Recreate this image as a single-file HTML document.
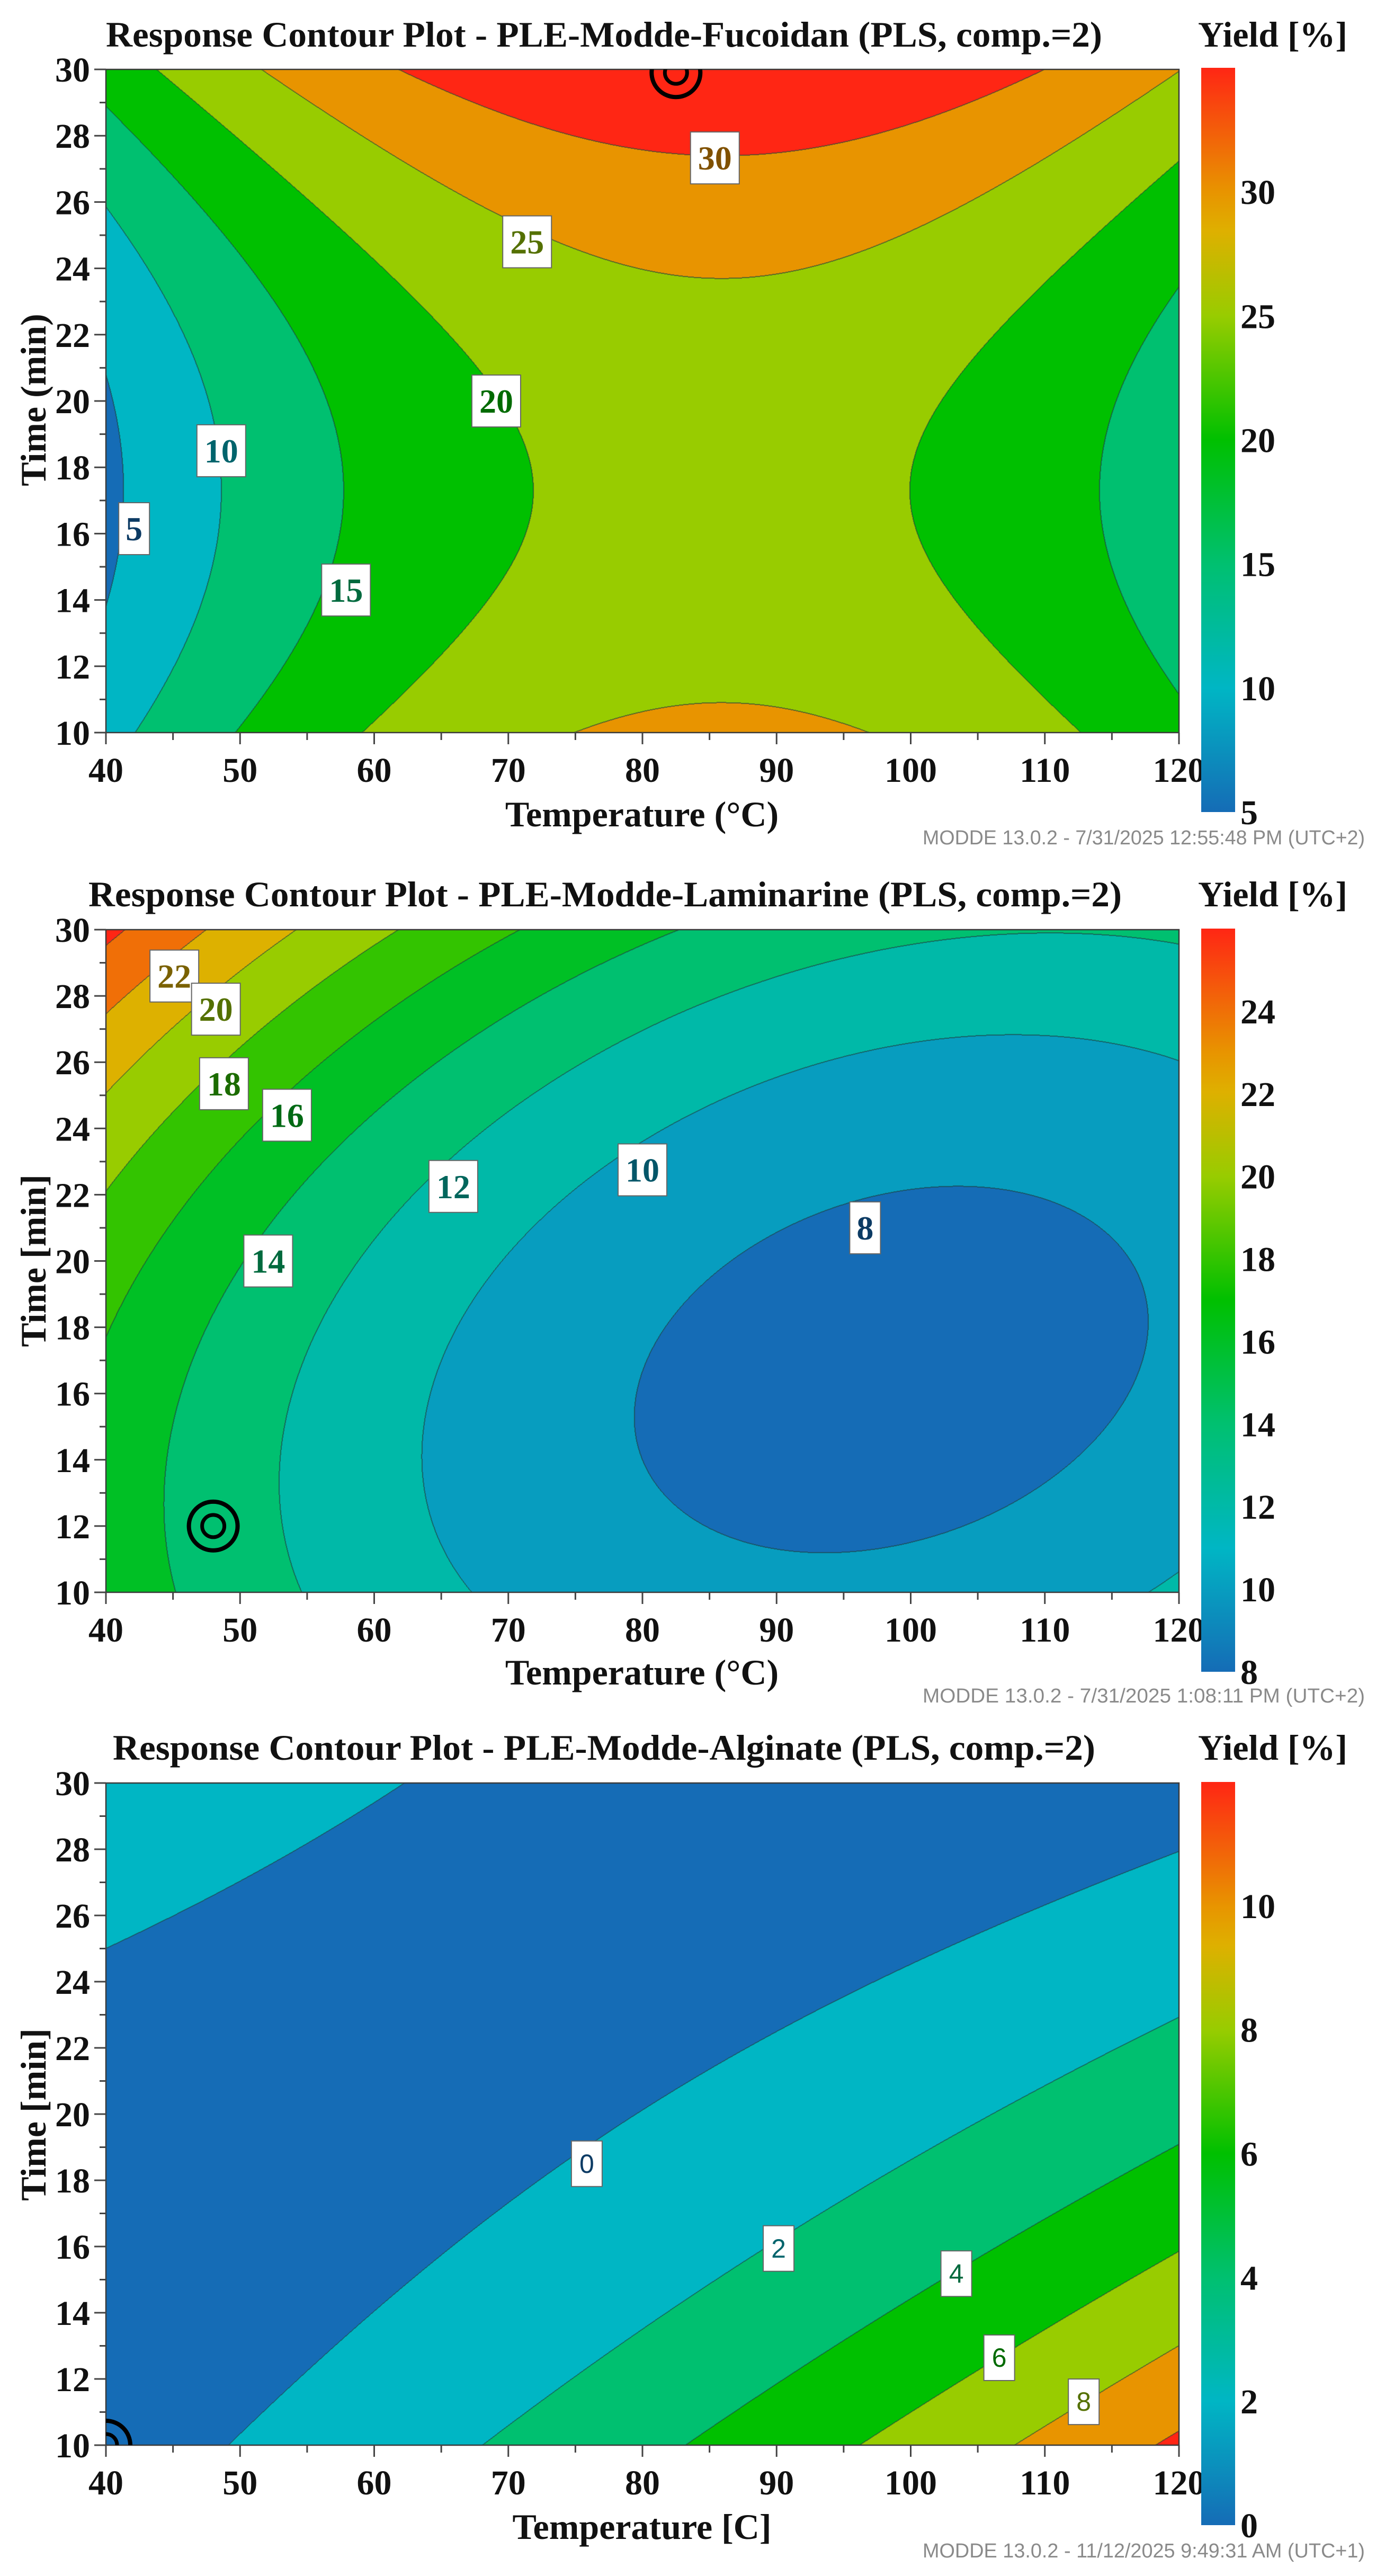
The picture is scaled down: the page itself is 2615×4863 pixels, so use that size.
<!DOCTYPE html>
<html>
<head>
<meta charset="utf-8">
<style>
  html,body{margin:0;padding:0;background:#fff;}
  #root{position:relative;width:2615px;height:4863px;overflow:hidden;background:#fff;}
  canvas{position:absolute;}
  svg{position:absolute;left:0;top:0;}
</style>
</head>
<body>
<div id="root"></div>
<script>
// ---------------- DATA ----------------
// quadratic model coefficients [b0, bT, bt, bTT, btt, bTt] in coded units
const coefFucoidan = [21.955, 3.953, 4.423, -13.4, 8.19, 0];
const coefLaminarine = [8.6, -4.3, 2.8, 4.0, 3.0, -1.8];
const coefAlginate = [0.026, 2.216, -2.146, 1.247, 1.375, -3.342];
// contour levels
const levelsFucoidan = [5, 10, 15, 20, 25, 30];
const levelsLaminarine = [8, 10, 12, 14, 16, 18, 20, 22, 24];
const levelsAlginate = [0, 2, 4, 6, 8, 10];
// contour label values and their (temperature, time) positions
const labelValsFucoidan = [30, 25, 20, 10, 5, 15];
const labelTempFucoidan = [85.4, 71.4, 69.1, 48.6, 42.1, 57.9];
const labelTimeFucoidan = [27.33, 24.8, 20.0, 18.5, 16.15, 14.3];
const labelValsLaminarine = [22, 20, 18, 16, 12, 10, 8, 14];
const labelTempLaminarine = [45.1, 48.2, 48.8, 53.5, 65.9, 80.0, 96.6, 52.1];
const labelTimeLaminarine = [28.6, 27.6, 25.35, 24.4, 22.25, 22.75, 21.0, 20.0];
const labelValsAlginate = [0, 2, 4, 6, 8];
const labelTempAlginate = [75.85, 90.15, 103.4, 106.6, 112.9];
const labelTimeAlginate = [18.5, 15.94, 15.18, 12.64, 11.31];
// design-point markers (temperature, time)
const markerFucoidan = [82.5, 29.9];
const markerLaminarine = [48, 12];
const markerAlginate = [40, 10];
// colorbar ranges and ticks
const cbRangeFucoidan = [5, 35];
const cbTicksFucoidan = [5, 10, 15, 20, 25, 30];
const cbRangeLaminarine = [8, 26];
const cbTicksLaminarine = [8, 10, 12, 14, 16, 18, 20, 22, 24];
const cbRangeAlginate = [0, 12];
const cbTicksAlginate = [0, 2, 4, 6, 8, 10];
// axis ticks
const tempTicks = [40, 50, 60, 70, 80, 90, 100, 110, 120];
const timeTicks = [10, 12, 14, 16, 18, 20, 22, 24, 26, 28, 30];
const tempDomain = [40, 120];
const timeDomain = [10, 30];

// ---------------- LAYOUT ----------------
const PX0 = 200, PX1 = 2226, CBX = 2268, CBW = 64;
const panels = [
  {key:'fucoidan', coef:coefFucoidan, levels:levelsFucoidan, lv:labelValsFucoidan, lT:labelTempFucoidan, lt:labelTimeFucoidan,
   marker:markerFucoidan, range:cbRangeFucoidan, cbTicks:cbTicksFucoidan, top:131, bottom:1383, cbTop:128, cbBot:1533,
   title:'Response Contour Plot - PLE-Modde-Fucoidan (PLS, comp.=2)', titleX:200, titleW:1881, titleY:88,
   yTitle:'Time (min)', yTitleC:755, xTitle:'Temperature (°C)', xTitleY:1560, footer:'MODDE 13.0.2 - 7/31/2025 12:55:48 PM (UTC+2)', footerY:1594, serifLabels:true},
  {key:'laminarine', coef:coefLaminarine, levels:levelsLaminarine, lv:labelValsLaminarine, lT:labelTempLaminarine, lt:labelTimeLaminarine,
   marker:markerLaminarine, range:cbRangeLaminarine, cbTicks:cbTicksLaminarine, top:1755, bottom:3006, cbTop:1753, cbBot:3156,
   title:'Response Contour Plot - PLE-Modde-Laminarine (PLS, comp.=2)', titleX:167, titleW:1951, titleY:1711,
   yTitle:'Time [min]', yTitleC:2380, xTitle:'Temperature (°C)', xTitleY:3180, footer:'MODDE 13.0.2 - 7/31/2025 1:08:11 PM (UTC+2)', footerY:3214, serifLabels:true},
  {key:'alginate', coef:coefAlginate, levels:levelsAlginate, lv:labelValsAlginate, lT:labelTempAlginate, lt:labelTimeAlginate,
   marker:markerAlginate, range:cbRangeAlginate, cbTicks:cbTicksAlginate, top:3366, bottom:4616, cbTop:3364, cbBot:4767,
   title:'Response Contour Plot - PLE-Modde-Alginate (PLS, comp.=2)', titleX:213, titleW:1855, titleY:3322,
   yTitle:'Time [min]', yTitleC:3992, xTitle:'Temperature [C]', xTitleY:4793, footer:'MODDE 13.0.2 - 11/12/2025 9:49:31 AM (UTC+1)', footerY:4828, serifLabels:false}
];

const stops = [[0,[21,108,182]],[1/6,[0,182,196]],[2/6,[0,192,112]],[0.5,[0,192,0]],[4/6,[152,204,0]],[0.78,[222,176,0]],[5/6,[232,148,0]],[1,[255,38,20]]];
function cmap(u){
  u = Math.max(0, Math.min(1, u));
  for (let i = 1; i < stops.length; i++) {
    if (u <= stops[i][0]) {
      const a = stops[i-1], b = stops[i], f = (u - a[0]) / (b[0] - a[0]);
      return [0,1,2].map(k => Math.round(a[1][k] + (b[1][k] - a[1][k]) * f));
    }
  }
  return stops[stops.length-1][1];
}
function model(c, T, t){
  const x1 = (T - 80) / 40, x2 = (t - 20) / 10;
  return c[0] + c[1]*x1 + c[2]*x2 + c[3]*x1*x1 + c[4]*x2*x2 + c[5]*x1*x2;
}
const NS = 'http://www.w3.org/2000/svg';
const root = document.getElementById('root');
const svg = document.createElementNS(NS, 'svg');
svg.setAttribute('width', 2615); svg.setAttribute('height', 4863);


function mk(tag, parent, attrs){
  const e = document.createElementNS(NS, tag);
  for (const k in attrs) e.setAttribute(k, attrs[k]);
  parent.appendChild(e);
  return e;
}
const defs = mk('defs', svg, {});
const grad = mk('linearGradient', defs, {id:'cbgrad', x1:0, y1:1, x2:0, y2:0});
stops.forEach(s => mk('stop', grad, {offset:s[0], 'stop-color':'rgb(' + s[1].join(',') + ')'}));

panels.forEach((p, pi) => {
  const W = PX1 - PX0, H = p.bottom - p.top;
  const xS = T => PX0 + (T - tempDomain[0]) / (tempDomain[1] - tempDomain[0]) * W;
  const yS = t => p.bottom - (t - timeDomain[0]) / (timeDomain[1] - timeDomain[0]) * H;
  const vmin = p.range[0], vmax = p.range[1];
  const cbY = v => p.cbBot - (v - vmin) / (vmax - vmin) * (p.cbBot - p.cbTop);

  // ---- filled contours on canvas
  const cv = document.createElement('canvas');
  cv.width = W; cv.height = H;
  cv.style.left = PX0 + 'px'; cv.style.top = p.top + 'px';
  
  
  root.appendChild(cv);
  const ctx = cv.getContext('2d');
  const img = ctx.createImageData(W, H);
  const band = new Uint8Array(W * H);
  const bandCol = [];
  for (let i = 0; i <= p.levels.length; i++) {
    const up = i < p.levels.length ? p.levels[i] : vmax;
    bandCol.push(cmap((up - vmin) / (vmax - vmin)));
  }
  for (let py = 0; py < H; py++) {
    const t = timeDomain[1] - (py + 0.5) / H * (timeDomain[1] - timeDomain[0]);
    for (let px = 0; px < W; px++) {
      const T = tempDomain[0] + (px + 0.5) / W * (tempDomain[1] - tempDomain[0]);
      const v = model(p.coef, T, t);
      let b = 0; while (b < p.levels.length && v >= p.levels[b]) b++;
      band[py * W + px] = b;
    }
  }
  const d = img.data;
  for (let py = 0; py < H; py++) {
    for (let px = 0; px < W; px++) {
      const i = py * W + px, b = band[i];
      let edge = false;
      if (px + 1 < W && band[i+1] !== b) edge = true;
      else if (px > 0 && band[i-1] !== b) edge = true;
      else if (py + 1 < H && band[i+W] !== b) edge = true;
      else if (py > 0 && band[i-W] !== b) edge = true;
      const c = bandCol[b];
      const o = i * 4;
      if (edge) { d[o] = c[0]*0.35 + 20; d[o+1] = c[1]*0.35 + 40; d[o+2] = c[2]*0.35 + 40; }
      else { d[o] = c[0]; d[o+1] = c[1]; d[o+2] = c[2]; }
      d[o+3] = 255;
    }
  }
  ctx.putImageData(img, 0, 0);

  const g = mk('g', svg, {});
  
  
  const clip = mk('clipPath', defs, {id:'clip' + pi});
  mk('rect', clip, {x:PX0, y:p.top, width:W, height:H});

  // frame
  const frame = mk('rect', g, {x:PX0, y:p.top, width:W, height:H, fill:'none', stroke:'#3a3a3a', 'stroke-width':2.5});
  
  

  // title
  const title = mk('text', g, {x:p.titleX, y:p.titleY, textLength:p.titleW, lengthAdjust:'spacingAndGlyphs',
    'font-family':'Liberation Serif, serif', 'font-weight':'bold', 'font-size':68, fill:'#111'});
  title.textContent = p.title;
  
  
  const yl = mk('text', g, {x:2262, y:p.titleY, textLength:282, lengthAdjust:'spacingAndGlyphs',
    'font-family':'Liberation Serif, serif', 'font-weight':'bold', 'font-size':68, fill:'#111'});
  yl.textContent = 'Yield [%]';
  
  

  // x ticks
  for (let T = 40; T <= 120; T += 5) {
    const major = T % 10 === 0;
    const tk = mk('line', g, {x1:xS(T), x2:xS(T), y1:p.bottom, y2:p.bottom + (major ? 22 : 14), stroke:'#444', 'stroke-width':3});
    
    
  }
  tempTicks.forEach(T => {
    const tx = mk('text', g, {x:xS(T), y:p.bottom + 93, 'text-anchor':'middle', 'font-family':'Liberation Serif, serif', 'font-weight':'bold', 'font-size':66, fill:'#111'});
    tx.textContent = T;
    
    
  });
  // y ticks
  for (let t = 10; t <= 30; t += 1) {
    const major = t % 2 === 0;
    const tk = mk('line', g, {x1:PX0, x2:PX0 - (major ? 22 : 12), y1:yS(t), y2:yS(t), stroke:'#444', 'stroke-width':3});
    
    
  }
  timeTicks.forEach(t => {
    const tx = mk('text', g, {x:170, y:yS(t) + 23, 'text-anchor':'end', 'font-family':'Liberation Serif, serif', 'font-weight':'bold', 'font-size':66, fill:'#111'});
    tx.textContent = t;
    
    
  });
  // axis titles
  const xt = mk('text', g, {x:1212, y:p.xTitleY, 'text-anchor':'middle', 'font-family':'Liberation Serif, serif', 'font-weight':'bold', 'font-size':68, fill:'#111'});
  xt.textContent = p.xTitle;
  
  
  const ytt = mk('text', g, {x:0, y:0, 'text-anchor':'middle', 'font-family':'Liberation Serif, serif', 'font-weight':'bold', 'font-size':68, fill:'#111',
    transform:'translate(86,' + p.yTitleC + ') rotate(-90)'});
  ytt.textContent = p.yTitle;
  
  

  // contour labels
  p.lv.forEach((v, i) => {
    const cx = xS(p.lT[i]), cy = yS(p.lt[i]);
    const one = String(v).length === 1;
    const bw = one ? 58 : 92, bh = p.serifLabels ? 98 : 86;
    const lg = mk('g', g, {});
    
    
    mk('rect', lg, {x:cx - bw/2, y:cy - bh/2, width:bw, height:bh, fill:'#fff', stroke:'#666', 'stroke-width':2});
    const c = cmap((v - vmin) / (vmax - vmin)).map(k => Math.round(k * 0.55));
    const lt = mk('text', lg, {x:cx, y:cy + (p.serifLabels ? 22 : 17), 'text-anchor':'middle',
      'font-family':p.serifLabels ? 'Liberation Serif, serif' : 'Liberation Sans, sans-serif',
      'font-weight':p.serifLabels ? 'bold' : 'normal', 'font-size':p.serifLabels ? 64 : 50, fill:'rgb(' + c.join(',') + ')'});
    lt.textContent = v;
  });

  // marker
  const mg = mk('g', g, {'clip-path':'url(#clip' + pi + ')'});
  
  
  mk('circle', mg, {cx:xS(p.marker[0]), cy:yS(p.marker[1]), r:46, fill:'none', stroke:'#000', 'stroke-width':8});
  mk('circle', mg, {cx:xS(p.marker[0]), cy:yS(p.marker[1]), r:21, fill:'none', stroke:'#000', 'stroke-width':7});

  // colorbar
  const cb = mk('rect', g, {x:CBX, y:p.cbTop, width:CBW, height:p.cbBot - p.cbTop, fill:'url(#cbgrad)'});
  
  
  p.cbTicks.forEach(v => {
    const ct = mk('text', g, {x:2342, y:cbY(v) + 23, 'font-family':'Liberation Serif, serif', 'font-weight':'bold', 'font-size':66, fill:'#111'});
    ct.textContent = v;
    
    
  });

  // footer
  const ft = mk('text', g, {x:2577, y:p.footerY, 'text-anchor':'end', textLength:835, lengthAdjust:'spacingAndGlyphs',
    'font-family':'Liberation Sans, sans-serif', 'font-size':38, fill:'#8a8a8a'});
  ft.textContent = p.footer;
  
  
});
root.appendChild(svg);
</script>
</body>
</html>
